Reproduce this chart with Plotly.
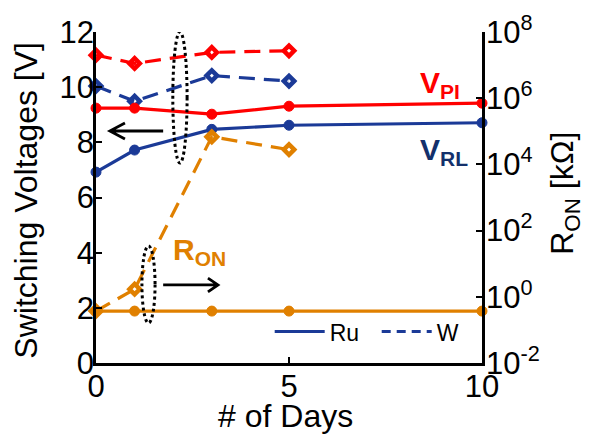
import plotly.graph_objects as go

# ---- data ----
days_ru = [0, 1, 3, 5, 10]
days_w = [0, 1, 3, 5]

vpi_ru = [9.24, 9.24, 9.02, 9.31, 9.42]
vpi_w = [11.16, 10.86, 11.26, 11.32]
vrl_ru = [6.92, 7.72, 8.47, 8.62, 8.71]
vrl_w = [10.04, 9.49, 10.42, 10.22]
ron_ru = [0.37, 0.37, 0.37, 0.37, 0.37]        # kOhm
ron_w = [0.37, 1.7, 68000, 28000]              # kOhm

x_ticks = [0, 5, 10]
y_ticks = [0, 2, 4, 6, 8, 10, 12]
r_tickvals = [1e-2, 1e0, 1e2, 1e4, 1e6, 1e8]
r_ticktext = ["10<sup>-2</sup>", "10<sup>0</sup>", "10<sup>2</sup>",
              "10<sup>4</sup>", "10<sup>6</sup>", "10<sup>8</sup>"]

RED = "#FF0000"
BLUE = "#1B3A97"
NAVY = "#13306B"
ORANGE = "#E08000"
FONT = "Liberation Sans, Arial, sans-serif"
DASH = "16px,9px"
LW = 3.2

fig = go.Figure()

def add(x, y, color, dash, symbol, axis="y"):
    open_sym = symbol.endswith("open")
    fig.add_trace(go.Scatter(
        x=x, y=y, mode="lines+markers", yaxis=axis, showlegend=False,
        cliponaxis=False,
        line=dict(color=color, width=LW, dash=dash),
        marker=dict(symbol=symbol, size=8 if open_sym else 10, color=color,
                    line=dict(color=color, width=4.5 if open_sym else 1)),
    ))

add(days_w, vpi_w, RED, DASH, "diamond-open")
add(days_w, vrl_w, BLUE, DASH, "diamond-open")
add(days_ru, vpi_ru, RED, "solid", "circle")
add(days_ru, vrl_ru, BLUE, "solid", "circle")
add(days_w, ron_w, ORANGE, DASH, "diamond-open", "y2")
add(days_ru, ron_ru, ORANGE, "solid", "circle", "y2")

# legend entries
fig.add_trace(go.Scatter(x=[None], y=[None], mode="lines", name="Ru",
                         line=dict(color=BLUE, width=3)))
fig.add_trace(go.Scatter(x=[None], y=[None], mode="lines", name="W",
                         line=dict(color=BLUE, width=3, dash="9px,6px")))

# annotations: series labels
fig.add_annotation(x=9.48, y=10.1, xref="x", yref="y", showarrow=False,
                   xanchor="right", yanchor="middle",
                   text="<b>V<sub>PI</sub></b>",
                   font=dict(family=FONT, size=30, color=RED))
fig.add_annotation(x=9.69, y=7.68, xref="x", yref="y", showarrow=False,
                   xanchor="right", yanchor="middle",
                   text="<b>V<sub>RL</sub></b>",
                   font=dict(family=FONT, size=30, color=NAVY))
fig.add_annotation(x=2.67, y=4.06, xref="x", yref="y", showarrow=False,
                   xanchor="center", yanchor="middle",
                   text="<b>R<sub>ON</sub></b>",
                   font=dict(family=FONT, size=30, color=ORANGE))

tick_font = dict(family=FONT, size=31, color="black")
title_font = dict(family=FONT, size=32, color="black")

# axis titles (placed as annotations for exact positioning)
fig.add_annotation(x=0.492, y=-0.16, xref="paper", yref="paper", showarrow=False,
                   xanchor="center", yanchor="middle", text="# of Days",
                   font=title_font)
fig.add_annotation(x=-0.18, y=0.492, xref="paper", yref="paper", showarrow=False,
                   xanchor="center", yanchor="middle", textangle=-90,
                   text="Switching Voltages [V]", font=title_font)
fig.add_annotation(x=1.215, y=0.514, xref="paper", yref="paper", showarrow=False,
                   xanchor="center", yanchor="middle", textangle=-90,
                   text="R<sub>ON</sub> [kΩ]", font=title_font)

# dotted ellipses
fig.add_shape(type="circle", xref="x", yref="y", x0=1.99, x1=2.36, y0=7.25, y1=12.0,
              line=dict(color="black", width=3, dash="dot"))
fig.add_shape(type="circle", xref="x", yref="y", x0=1.19, x1=1.53, y0=1.45, y1=4.24,
              line=dict(color="black", width=3, dash="dot"))

# arrows
fig.add_shape(type="path", xref="x", yref="y",
              path="M 1.74 8.41 L 0.36 8.41 M 0.75 8.70 L 0.36 8.41 L 0.75 8.12",
              line=dict(color="black", width=2.8))
fig.add_shape(type="path", xref="x", yref="y",
              path="M 1.74 2.83 L 3.16 2.83 M 2.90 3.08 L 3.16 2.83 L 2.90 2.58",
              line=dict(color="black", width=2.8))

# page body has an 8px margin: figure offset by 8px, extends to the window edge
fig.update_layout(
    width=583, height=429,
    margin=dict(l=88, r=109, t=24, b=74, autoexpand=False),
    plot_bgcolor="white", paper_bgcolor="white",
    font=dict(family=FONT, color="black"),
    showlegend=True,
    legend=dict(orientation="h", x=0.45, y=0.03, xanchor="left", yanchor="bottom",
                bgcolor="rgba(0,0,0,0)", font=dict(family=FONT, size=23),
                itemwidth=50, tracegroupgap=0, entrywidth=42),
    xaxis=dict(range=[0, 10], tickvals=x_ticks, ticks="inside", ticklen=6,
               tickwidth=2, tickcolor="black", showline=True, linecolor="black",
               linewidth=2.5, showgrid=False, zeroline=False,
               tickfont=tick_font, ticklabelstandoff=-6),
    yaxis=dict(range=[0, 12], tickvals=y_ticks, ticks="inside", ticklen=6,
               tickwidth=2, tickcolor="black", showline=True, linecolor="black",
               linewidth=2.5, showgrid=False, zeroline=False,
               tickfont=tick_font, ticklabelstandoff=-7),
    yaxis2=dict(type="log", range=[-2, 8], overlaying="y", side="right",
                tickvals=r_tickvals, ticktext=r_ticktext,
                ticks="inside", ticklen=6, tickwidth=2, tickcolor="black",
                showline=True, linecolor="black", linewidth=2.5,
                showgrid=False, zeroline=False, tickfont=tick_font,
                ticklabelstandoff=-5),
)

fig.write_html("out.html")
